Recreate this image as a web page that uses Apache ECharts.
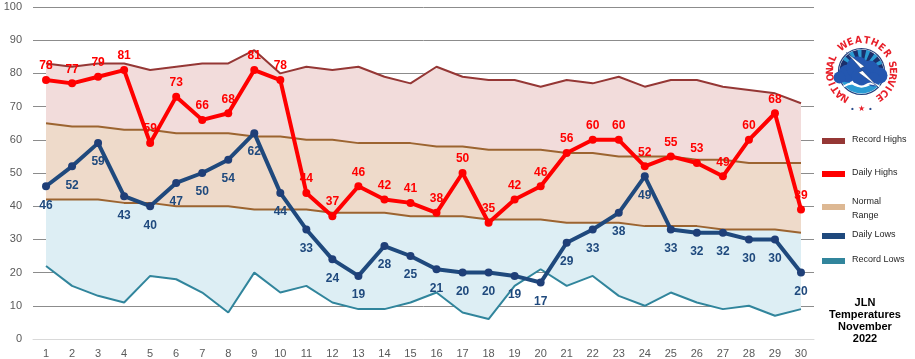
<!DOCTYPE html>
<html>
<head>
<meta charset="utf-8">
<script src="https://cdn.jsdelivr.net/npm/echarts@6/dist/echarts.min.js"></script>
<style>html,body{margin:0;padding:0;background:#fff}#c{width:915px;height:359px}</style>
</head>
<body>
<div id="c"></div>
<script>
var days = ['1','2','3','4','5','6','7','8','9','10','11','12','13','14','15','16','17','18','19','20','21','22','23','24','25','26','27','28','29','30'];
var recordHighs = [83,82,83,83,81,82,83,83,87,80,82,81,82,79,77,82,79,78,78,76,78,77,79,76,78,78,76,75,74,71];
var normalHighs = [65,64,64,63,63,62,62,62,61,61,60,60,59,59,59,58,58,57,57,57,56,56,55,55,55,54,54,53,53,53];
var normalLows  = [42,42,42,41,41,40,40,40,39,39,39,38,38,38,37,37,37,36,36,36,35,35,35,34,34,34,33,33,33,32];
var recordLows  = [22,16,13,11,19,18,14,8,20,14,16,11,9,9,11,14,8,6,16,21,16,19,13,10,14,11,9,10,7,9];
var dailyHighs  = [78,77,79,81,59,73,66,68,81,78,44,37,46,42,41,38,50,35,42,46,56,60,60,52,55,53,49,60,68,39];
var dailyLows   = [46,52,59,43,40,47,50,54,62,44,33,24,19,28,25,21,20,20,19,17,29,33,38,49,33,32,32,30,30,20];
var yTicks = [0,10,20,30,40,50,60,70,80,90,100];

function diff(a,b){return a.map(function(v,i){return v-b[i];});}

var chart = echarts.init(document.getElementById('c'));
var font = 'Liberation Sans, Arial, sans-serif';

// NWS-style logo (decoration)
var cx = 861.5, cy = 71.5, R = 22;
var logo = [];
logo.push({type:'circle', shape:{cx:cx,cy:cy,r:R+1}, style:{fill:'#fff', stroke:'#23427F', lineWidth:1.2}});
logo.push({type:'sector', shape:{cx:cx,cy:cy,r:R,r0:0,startAngle:Math.PI,endAngle:2*Math.PI}, style:{fill:'#1B2F6B'}});
for (var k=0;k<6;k++){
  var a0 = Math.PI*(1.18+k*0.13);
  logo.push({type:'sector', shape:{cx:cx,cy:cy,r:R,r0:9,startAngle:a0,endAngle:a0+0.06*Math.PI}, style:{fill:'#2A9BD3'}});
}
logo.push({type:'sector', shape:{cx:cx,cy:cy,r:R,r0:0,startAngle:0.08*Math.PI,endAngle:0.92*Math.PI}, style:{fill:'#2A9BD3'}});
logo.push({type:'sector', shape:{cx:cx,cy:cy,r:R-6,r0:0,startAngle:0.15*Math.PI,endAngle:0.85*Math.PI}, style:{fill:'#fff'}});
var cloud = [[-14,2,9],[-4,-4,11],[8,-1,10],[18,4,8],[-22,6,6],[0,5,10],[12,8,7]];
cloud.forEach(function(c){logo.push({type:'circle', shape:{cx:cx+c[0],cy:cy+c[1],r:c[2]}, style:{fill:'#2457B0'}});});
logo.push({type:'polyline', shape:{points:[[cx-18,cy+15],[cx-9,cy+12],[cx,cy+15],[cx+9,cy+12],[cx+18,cy+15]], smooth:0.5}, style:{stroke:'#fff', lineWidth:2, fill:null}});
logo.push({type:'polygon', shape:{points:[[cx-15,cy-19],[cx+3,cy-5],[cx-1,cy-3],[cx+17,cy+16],[cx-3,cy+1],[cx+1,cy-1]]}, style:{fill:'#fff', stroke:'#1A3A78', lineWidth:0.6}});
var words = [['NATIONAL',-148,-65],['WEATHER',-36,55],['SERVICE',77,145]];
words.forEach(function(w){
  var s = w[0];
  for (var i=0;i<s.length;i++){
    var th = (w[1] + (w[2]-w[1])*i/(s.length-1))*Math.PI/180;
    logo.push({type:'text', x:cx+31*Math.sin(th), y:cy-31*Math.cos(th), rotation:-th,
      style:{text:s[i], fill:'#E8202A', font:'bold 10px "Liberation Sans Narrow", "DejaVu Sans Condensed", Arial', align:'center', verticalAlign:'middle'}});
  }
});
logo.push({type:'text', x:cx-9, y:cy+37, style:{text:'•', fill:'#2B4C8C', font:'bold 8px '+font, align:'center', verticalAlign:'middle'}});
logo.push({type:'text', x:cx, y:cy+37, style:{text:'★', fill:'#E8202A', font:'8px DejaVu Sans', align:'center', verticalAlign:'middle'}});
logo.push({type:'text', x:cx+9, y:cy+37, style:{text:'•', fill:'#2B4C8C', font:'bold 8px '+font, align:'center', verticalAlign:'middle'}});

var legendItems = [
  {name:'Record Highs', color:'#953735', y:141},
  {name:'Daily Highs', color:'#FF0000', y:174},
  {name:'Normal\nRange', color:'#DDB893', y:207},
  {name:'Daily Lows', color:'#1F497D', y:236},
  {name:'Record Lows', color:'#31859C', y:261}
];
var leg = [];
legendItems.forEach(function(it){
  leg.push({type:'rect', shape:{x:822,y:it.y-3,width:23,height:6}, style:{fill:it.color}});
  var ty = it.name.indexOf('\n')>=0 ? it.y+2 : it.y-1;
  leg.push({type:'text', x:852, y:ty, style:{text:it.name, fill:'#262626', font:'9px '+font, align:'left', verticalAlign:'middle', lineHeight:14}});
});
leg.push({type:'text', x:865, y:321, style:{text:'JLN\nTemperatures\nNovember\n2022', fill:'#000', font:'bold 11px '+font, align:'center', verticalAlign:'middle', lineHeight:12}});

var splitColors = yTicks.map(function(v){return v===0?'#d9d9d9':'#8c8c8c';});

chart.setOption({
  animation:false,
  grid:{left:33, right:101, top:7, bottom:20},
  xAxis:{type:'category', data:days, boundaryGap:true,
    axisLine:{lineStyle:{color:'#d9d9d9'}}, axisTick:{show:false},
    axisLabel:{color:'#595959', fontSize:11, fontFamily:font, margin:9}},
  yAxis:{type:'value', min:0, max:100, interval:10,
    axisLine:{show:false}, axisTick:{show:false},
    axisLabel:{color:'#595959', fontSize:11, fontFamily:font, margin:11},
    splitLine:{lineStyle:{color:splitColors, width:1}}},
  graphic:logo.concat(leg),
  series:[
    {type:'line', stack:'band', data:recordLows, symbol:'none', lineStyle:{width:0}, silent:true, z:1},
    {type:'line', stack:'band', data:diff(normalLows,recordLows), symbol:'none', lineStyle:{width:0}, areaStyle:{color:'#DDEEF4', opacity:1}, z:1},
    {type:'line', stack:'band', data:diff(normalHighs,normalLows), symbol:'none', lineStyle:{width:0}, areaStyle:{color:'#EEDACA', opacity:1}, z:1},
    {type:'line', stack:'band', data:diff(recordHighs,normalHighs), symbol:'none', lineStyle:{width:0}, areaStyle:{color:'#F2DCDB', opacity:1}, z:1},
    {type:'line', data:recordHighs, symbol:'none', lineStyle:{color:'#953735', width:2}, z:3},
    {type:'line', data:normalHighs, symbol:'none', lineStyle:{color:'#9C6430', width:2}, z:3},
    {type:'line', data:normalLows, symbol:'none', lineStyle:{color:'#9C6430', width:2}, z:3},
    {type:'line', data:recordLows, symbol:'none', lineStyle:{color:'#31859C', width:2}, z:3},
    {type:'line', data:dailyLows, symbol:'circle', symbolSize:8, itemStyle:{color:'#1F3F78'}, lineStyle:{color:'#1F497D', width:4}, z:4,
      label:{show:true, position:'bottom', distance:9, color:'#1F497D', fontSize:12, fontWeight:'bold', fontFamily:font}},
    {type:'line', data:dailyHighs, symbol:'circle', symbolSize:8, itemStyle:{color:'#FF0000'}, lineStyle:{color:'#FF0000', width:4}, z:5,
      label:{show:true, position:'top', distance:4, color:'#FF0000', fontSize:12, fontWeight:'bold', fontFamily:font}}
  ]
});
</script>
</body>
</html>
